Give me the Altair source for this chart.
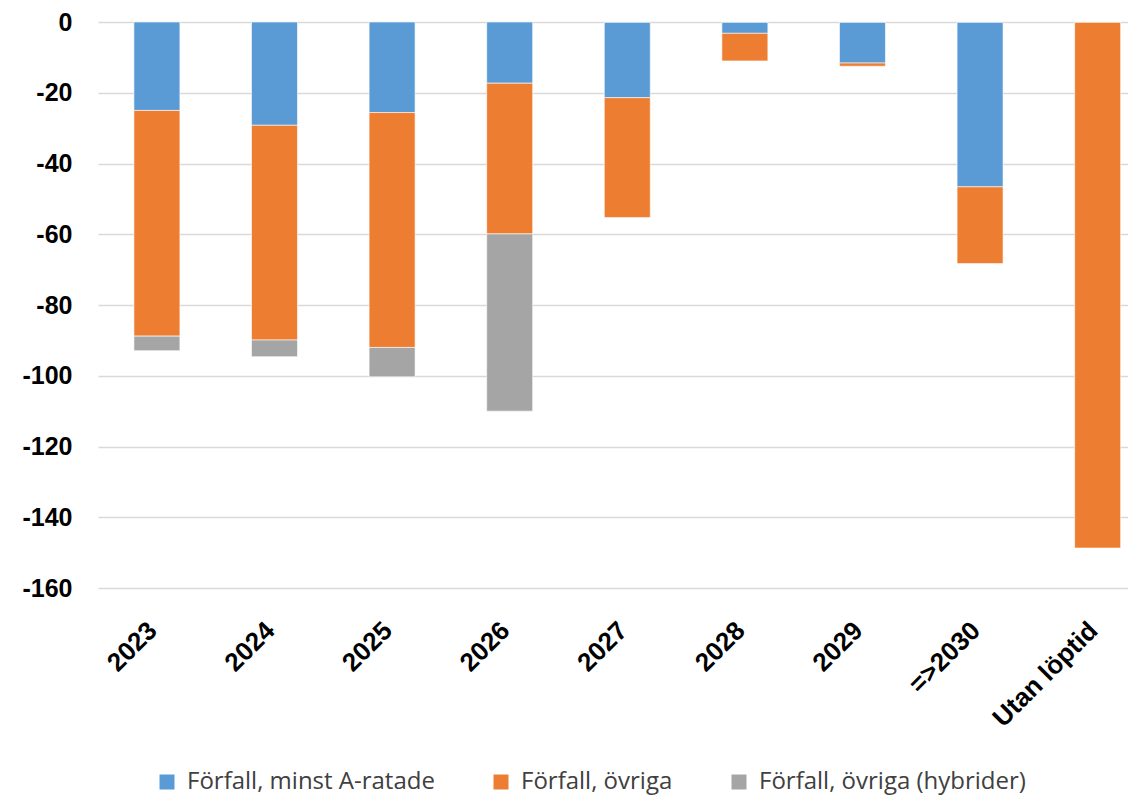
import altair as alt
import pandas as pd

categories = ["2023", "2024", "2025", "2026", "2027", "2028", "2029", "=>2030", "Utan löptid"]
series_names = ["Förfall, minst A-ratade", "Förfall, övriga", "Förfall, övriga (hybrider)"]
a_rated = [-25.0, -29.2, -25.6, -17.3, -21.4, -3.2, -11.6, -46.6, 0.0]
ovriga = [-63.8, -60.7, -66.4, -42.6, -33.9, -7.8, -0.9, -21.7, -148.7]
hybrider = [-4.1, -4.7, -8.3, -50.1, 0.0, 0.0, 0.0, 0.0, 0.0]
y_ticks = [-160, -140, -120, -100, -80, -60, -40, -20, 0]
colors = ["#5B9BD5", "#ED7D31", "#A5A5A5"]

rows = []
for i, c in enumerate(categories):
    for k, (name, vals) in enumerate(zip(series_names, [a_rated, ovriga, hybrider])):
        rows.append({"cat": c, "series": name, "value": vals[i], "ord": k})
df = pd.DataFrame(rows)

chart = alt.Chart(df).mark_bar(stroke="white", strokeWidth=0.6).encode(
    x=alt.X("cat:N", sort=categories, title=None,
            scale=alt.Scale(paddingInner=0.609, paddingOuter=0.184, align=0.83),
            axis=alt.Axis(labelAngle=-45, labelAlign="right", labelBaseline="middle",
                          labelPadding=38, labelOffset=-4, ticks=False, domain=False,
                          labelFont="Liberation Sans", labelFontWeight="bold",
                          labelFontSize=26, labelColor="#000000")),
    y=alt.Y("value:Q", stack="zero", title=None,
            scale=alt.Scale(domain=[-160, 0], nice=False),
            axis=alt.Axis(values=y_ticks, ticks=False, domain=False,
                          labelExpr="datum.value < 0 ? '-' + abs(datum.value) : '' + datum.value",
                          labelFont="Liberation Sans", labelFontWeight="bold",
                          labelFontSize=25, labelColor="#000000", labelPadding=26,
                          gridColor="#D9D9D9", gridWidth=1.5)),
    color=alt.Color("series:N", sort=series_names,
                    scale=alt.Scale(domain=series_names, range=colors),
                    legend=alt.Legend(title=None, orient="none", direction="horizontal",
                                      legendX=57, legendY=748, symbolType="square",
                                      symbolSize=225, symbolStrokeWidth=0,
                                      labelFont="Open Sans", labelFontSize=24,
                                      labelColor="#404040", labelLimit=400,
                                      columnPadding=54, labelOffset=8)),
    order=alt.Order("ord:Q"),
).properties(
    width=1030, height=566,
    padding={"left": 13, "top": 2, "right": 0, "bottom": 9},
).configure_view(stroke=None).configure_axisX(grid=False)

chart.save("out.html", embed_options={"renderer": "svg", "actions": False})
